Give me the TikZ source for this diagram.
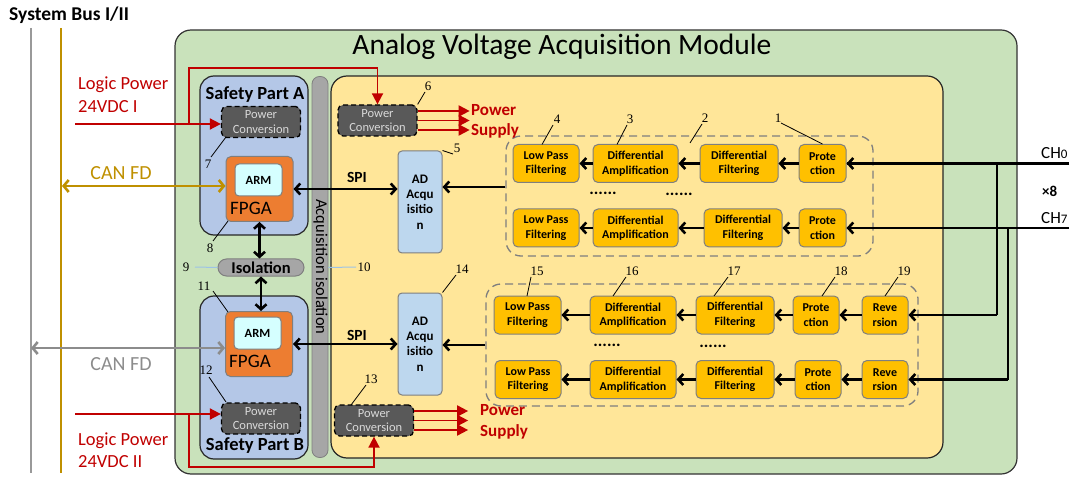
\documentclass[tikz,border=0pt]{standalone}
\usepackage{fontspec}
\setmainfont{Carlito}
\newfontfamily\numfont{Liberation Serif}
\usetikzlibrary{arrows.meta}
\definecolor{outerG}{HTML}{C9E2BB}
\definecolor{innerY}{HTML}{FFE699}
\definecolor{safeB}{HTML}{B4C7E7}
\definecolor{adB}{HTML}{BDD7EE}
\definecolor{armC}{HTML}{D5FFFF}
\definecolor{procY}{HTML}{FFC000}
\definecolor{fpgaO}{HTML}{ED7D31}
\definecolor{isoG}{HTML}{A6A6A6}
\definecolor{busG}{HTML}{999999}
\definecolor{gold}{HTML}{BF9000}
\definecolor{canGray}{HTML}{8C8C8C}
\definecolor{pwrRed}{HTML}{C00000}
\definecolor{pcGray}{HTML}{595959}
\definecolor{pcText}{HTML}{D9D9D9}
\definecolor{leadBlue}{HTML}{9DC3E6}
\definecolor{edgeG}{HTML}{7F7F7F}
\begin{document}
\begin{tikzpicture}[x=1pt,y=-1pt,
  proc/.style={draw=edgeG, fill=procY, rounded corners=5pt, line width=1pt,
    font=\bfseries\fontsize{12}{14.5}\selectfont, align=center, inner sep=0pt, minimum height=38pt},
  pcbox/.style={draw=black, dash pattern=on 5pt off 3pt, fill=pcGray, text=pcText,
    rounded corners=5pt, line width=1.3pt, font=\fontsize{12.5}{14.5}\selectfont,
    align=center, inner sep=0pt, minimum width=79pt, minimum height=31pt},
  adbox/.style={draw=edgeG, fill=adB, rounded corners=4pt, line width=1pt,
    font=\bfseries\fontsize{13}{15.3}\selectfont, align=center, inner sep=0pt,
    minimum width=44pt, minimum height=102pt},
  fpga/.style={draw=edgeG, fill=fpgaO, rounded corners=5pt, line width=1pt,
    minimum width=67pt, minimum height=65pt, inner sep=0pt},
  armbox/.style={draw=edgeG, fill=armC, rounded corners=4pt, line width=1pt,
    minimum width=47pt, minimum height=32pt, inner sep=0pt,
    font=\bfseries\fontsize{12.5}{12.5}\selectfont},
  grp/.style={draw=edgeG, dash pattern=on 8pt off 5pt, line width=1.3pt, rounded corners=15pt, inner sep=0pt},
  num/.style={font=\numfont\fontsize{13}{13}\selectfont, inner sep=0pt},
  lead/.style={line width=0.8pt, draw=black},
  arr/.style={line width=2.6pt, draw=black, -{Straight Barb[length=5pt,width=11pt,line width=2.6pt]}},
  darr/.style={line width=2.6pt, draw=black, {Straight Barb[length=5pt,width=11pt,line width=2.6pt]}-{Straight Barb[length=5pt,width=11pt,line width=2.6pt]}},
  reda/.style={line width=1.8pt, draw=pwrRed, -{Triangle[length=11pt,width=11pt]}},
  lbl/.style={inner sep=0pt},
  dots/.style={inner sep=0pt, font=\bfseries\fontsize{17}{17}\selectfont},
]
\useasboundingbox (0,0) rectangle (1070,478);

% system bus
\node[lbl, anchor=west, font=\bfseries\fontsize{19.5}{19.5}\selectfont] (sysbus) at (9,15) {System Bus I/II};
\coordinate (busGrayTop) at (31,28);
\coordinate (busGrayBot) at (31,473);
\coordinate (busGoldTop) at (61,28);
\coordinate (busGoldBot) at (61,473);
\draw[busG, line width=2.5pt] (busGrayTop) -- (busGrayBot);
\draw[gold, line width=2.5pt] (busGoldTop) -- (busGoldBot);

% outer module
\node[draw=black!80, fill=outerG, line width=1.2pt, rounded corners=16pt, minimum width=842pt, minimum height=444pt, inner sep=0pt] (outer) at (596,252) {};
\node[lbl, font=\fontsize{29.5}{29.5}\selectfont] (title) at (562,47) {Analog Voltage Acquisition Module};

% safety parts
\node[draw=black!85, fill=safeB, line width=1.2pt, rounded corners=14pt, minimum width=108pt, minimum height=159pt, inner sep=0pt] (SA) at (254,155.5) {};
\node[draw=black!85, fill=safeB, line width=1.2pt, rounded corners=14pt, minimum width=108pt, minimum height=163pt, inner sep=0pt] (SB) at (254,377.5) {};
\node[lbl, font=\bfseries\fontsize{18.5}{18.5}\selectfont] (SAl) at (255,95) {Safety Part A};
\node[lbl, font=\bfseries\fontsize{18.5}{18.5}\selectfont] (SBl) at (255,446) {Safety Part B};

% acquisition isolation bar
\node[draw=edgeG, fill=isoG, line width=0.8pt, rounded corners=7.5pt, minimum width=16pt, minimum height=381pt, inner sep=0pt] (AIbar) at (320,267) {};
\node[lbl, rotate=-90, font=\fontsize{16.5}{16.5}\selectfont] (AIl) at (320.5,267) {Acquisition isolation};

% yellow area
\node[draw=black!85, fill=innerY, line width=1.2pt, rounded corners=16pt, minimum width=612pt, minimum height=382pt, inner sep=0pt] (inner) at (637,267) {};

% power conversions
\node[pcbox] (PC7) at (261,122) {Power\\Conversion};
\node[pcbox] (PC12) at (261,418.5) {Power\\Conversion};
\node[pcbox] (PC6) at (377.5,120.5) {Power\\Conversion};
\node[pcbox] (PC13) at (374,420.5) {Power\\Conversion};

% FPGA
\node[fpga] (FA) at (259.5,189) {};
\node[armbox] (ARMA) at (258.5,180) {ARM};
\node[lbl, font=\fontsize{19}{19}\selectfont] (FAl) at (251,208) {FPGA};
\node[fpga] (FB) at (259,344) {};
\node[armbox] (ARMB) at (257.5,333) {ARM};
\node[lbl, font=\fontsize{19}{19}\selectfont] (FBl) at (250,361) {FPGA};

% isolation
\node[draw=edgeG, fill=isoG, line width=1pt, rounded corners=8.5pt, minimum width=86pt, minimum height=17pt, inner sep=0pt, font=\bfseries\fontsize{16.5}{16.5}\selectfont] (ISO) at (261,267.5) {Isolation};
\draw[darr] (FA.south) -- (FA.south |- ISO.north);
\draw[darr] (ISO.south) -- (ISO.south |- FB.north);

% AD
\node[adbox] (AD5) at (420,202) {AD\\Acqu\\isitio\\n};
\node[adbox] (AD14) at (420,344) {AD\\Acqu\\isitio\\n};

% SPI
\draw[darr] (FA.east) -- (AD5.west |- FA.east);
\node[lbl, font=\bfseries\fontsize{15.5}{15.5}\selectfont] (SPIa) at (357,177) {SPI};
\draw[darr] (FB.east) -- (AD14.west |- FB.east);
\node[lbl, font=\bfseries\fontsize{15.5}{15.5}\selectfont] (SPIb) at (357,335) {SPI};

% groups
\node[grp, minimum width=367pt, minimum height=120pt] (G1) at (689.5,196) {};
\node[grp, minimum width=432pt, minimum height=122pt] (G2) at (702,345) {};

% rows
\node[proc, minimum width=66pt] (L1) at (546,163.5) {Low Pass\\Filtering};
\node[proc, minimum width=85pt] (A1) at (635.5,163.5) {Differential\\Amplification};
\node[proc, minimum width=78pt] (D1) at (739,163.5) {Differential\\Filtering};
\node[proc, minimum width=47pt] (P1) at (822.5,163.5) {Prote\\ction};

\node[proc, minimum width=66pt] (L2) at (546,228) {Low Pass\\Filtering};
\node[proc, minimum width=85pt] (A2) at (635.5,228) {Differential\\Amplification};
\node[proc, minimum width=78pt] (D2) at (743,228) {Differential\\Filtering};
\node[proc, minimum width=47pt] (P2) at (822.5,228) {Prote\\ction};

\node[proc, minimum width=67pt] (L3) at (527.5,315) {Low Pass\\Filtering};
\node[proc, minimum width=86pt] (A3) at (633,315) {Differential\\Amplification};
\node[proc, minimum width=78pt] (D3) at (735,315) {Differential\\Filtering};
\node[proc, minimum width=46pt] (P3) at (816,315) {Prote\\ction};
\node[proc, minimum width=46pt] (R3) at (885,315) {Reve\\rsion};

\node[proc, minimum width=66pt] (L4) at (528,379.5) {Low Pass\\Filtering};
\node[proc, minimum width=86pt] (A4) at (633,379.5) {Differential\\Amplification};
\node[proc, minimum width=78pt] (D4) at (735,379.5) {Differential\\Filtering};
\node[proc, minimum width=46pt] (P4) at (818,379.5) {Prote\\ction};
\node[proc, minimum width=46pt] (R4) at (885,379.5) {Reve\\rsion};

\foreach \a/\b in {P1/D1,D1/A1,A1/L1,P2/D2,D2/A2,A2/L2,R3/P3,P3/D3,D3/A3,A3/L3,R4/P4,P4/D4,D4/A4,A4/L4}
  \draw[arr] (\a.west) -- (\b.east |- \a.west);

% dots
\node[dots] (dot1) at (603,193) {......};
\node[dots] (dot2) at (679,194) {......};
\node[dots] (dot3) at (607,345) {......};
\node[dots] (dot4) at (713,346) {......};

% group to AD
\draw[arr] ([yshift=9pt]G1.west) -- ([yshift=15pt]AD5.east);
\draw[arr] (G2.west) -- (AD14.east |- G2.west);

% channel inputs
\coordinate (ch0end) at (1069,163.5);
\coordinate (ch7end) at (1069,228);
\coordinate (v0) at (997,163.5);
\coordinate (v7) at (1008,228);
\draw[line width=2.6pt] (ch0end) -- (P1.east);
\draw[arr] (v0) -- (P1.east);
\draw[line width=2.6pt] (ch7end) -- (v7);
\draw[arr] (v7) -- (P2.east);
\draw[line width=2.6pt] (v0) -- (v0 |- R3.east);
\draw[arr] (v0 |- R3.east) -- (R3.east);
\draw[line width=2.6pt] (v7) -- (v7 |- R4.east);
\draw[arr] (v7 |- R4.east) -- (R4.east);
\node[lbl, anchor=west, font=\fontsize{17}{17}\selectfont] (CH0) at (1041,153) {CH{\fontsize{13}{13}\selectfont 0}};
\node[lbl, anchor=west, font=\bfseries\fontsize{15}{15}\selectfont] (x8) at (1042,191) {×8};
\node[lbl, anchor=west, font=\fontsize{17}{17}\selectfont] (CH7) at (1041,218) {CH{\fontsize{13}{13}\selectfont 7}};

% CAN FD
\draw[gold, line width=2.6pt, {Straight Barb[length=5pt,width=12pt,line width=2.6pt]}-{Straight Barb[length=5pt,width=12pt,line width=2.6pt]}] (busGoldTop |- FA.west) ++(1,-3) coordinate (canA) -- ([yshift=3pt]FA.west);
\node[lbl, text=gold, font=\fontsize{20}{20}\selectfont] (canAl) at (121,173) {CAN FD};
\draw[canGray, line width=2.6pt, {Straight Barb[length=5pt,width=12pt,line width=2.6pt]}-{Straight Barb[length=5pt,width=12pt,line width=2.6pt]}] (busGrayTop |- FB.west) ++(0,4) coordinate (canB) -- ([yshift=-4pt]FB.west);
\node[lbl, text=canGray, font=\fontsize{20}{20}\selectfont] (canBl) at (121,364) {CAN FD};

% logic power
\node[lbl, anchor=west, align=left, text=pwrRed, font=\fontsize{18.5}{23}\selectfont] (lpAl) at (78,94.5) {Logic Power\\24VDC I};
\node[lbl, anchor=west, align=left, text=pwrRed, font=\fontsize{18.5}{22}\selectfont] (lpBl) at (78,450) {Logic Power\\24VDC II};
\coordinate (lpA) at (75,124);
\coordinate (jA) at (189,124);
\coordinate (topA) at (189,68);
\draw[reda] (lpA) -- (PC7.west |- lpA);
\draw[reda] (jA) -- (topA) -| (PC6.north);
\coordinate (lpB) at (75,414);
\coordinate (jB) at (189,414);
\coordinate (botB) at (189,467);
\draw[reda] (lpB) -- (PC12.west |- lpB);
\draw[reda] (jB) -- (botB) -| (PC13.south);

% power supply arrows
\foreach \s in {9.5,0,-9.5} {
  \draw[reda] ([yshift=\s pt]PC6.east) -- ++(52,0);
  \draw[reda] ([yshift=\s pt]PC13.east) -- ++(54,0);
}
\node[lbl, anchor=west, align=left, text=pwrRed, font=\bfseries\fontsize{17}{20}\selectfont] (psA) at (471,121) {Power\\Supply};
\node[lbl, anchor=west, align=left, text=pwrRed, font=\bfseries\fontsize{17}{21}\selectfont] (psB) at (480,421.5) {Power\\Supply};

% numbered leaders
\node[num] (n1) at (778,118) {1};
\draw[lead] (781,123) -- (P1.north);
\node[num] (n2) at (705,118) {2};
\draw[lead] (702,124) -- (690,143);
\node[num] (n3) at (630,119) {3};
\draw[lead] (627,125) -- (617,144.5);
\node[num] (n4) at (557,119) {4};
\draw[lead] (553,125) -- (542,144.5);
\node[num] (n5) at (457,148) {5};
\draw[lead] (453,154) -- (AD5.north east);
\node[num] (n6) at (428,86) {6};
\draw[lead] (425,92) -- (PC6.north east);
\node[num] (n7) at (208,164) {7};
\draw[lead] (211,157) -- (226,137);
\node[num] (n8) at (210,248) {8};
\draw[lead] (213,241) -- (228,221);
\node[num] (n9) at (186,267) {9};
\draw[leadBlue, line width=1pt] (195,267) -- (ISO.west);
\node[num] (n10) at (364,267) {10};
\draw[leadBlue, line width=1pt] (AIbar.east |- ISO.east) -- (356,267);
\node[num] (n11) at (204,286) {11};
\draw[lead] (213,291) -- (228,312);
\node[num] (n12) at (206,370) {12};
\draw[lead] (209,377) -- (226,402);
\node[num] (n13) at (371,379) {13};
\draw[lead] (366,385) -- (351,405);
\node[num] (n14) at (462,269) {14};
\draw[lead] (456,275) -- (AD14.north east);
\node[num] (n15) at (537,271) {15};
\draw[lead] (531,277) -- (527,296);
\node[num] (n16) at (632,271) {16};
\draw[lead] (626,277) -- (613,296);
\node[num] (n17) at (734,271) {17};
\draw[lead] (728,277) -- (714,296);
\node[num] (n18) at (841,271) {18};
\draw[lead] (835,277) -- (822,296);
\node[num] (n19) at (904,271) {19};
\draw[lead] (898,277) -- (885,296);
\end{tikzpicture}
\end{document}
